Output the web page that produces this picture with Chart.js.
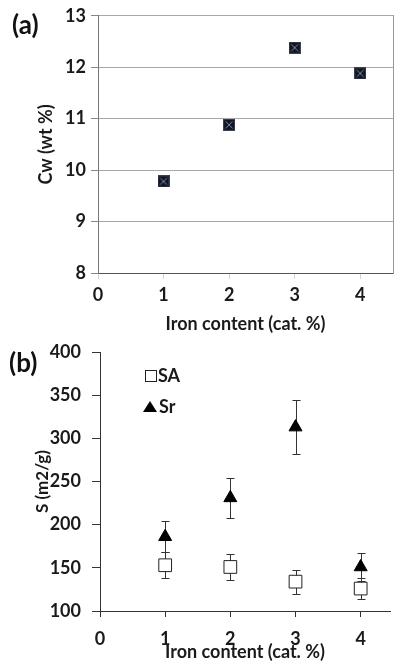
<!DOCTYPE html>
<html><head><meta charset="utf-8">
<script src="https://cdn.jsdelivr.net/npm/chart.js@4.4.0/dist/chart.umd.min.js"></script>
<style>
html,body{margin:0;padding:0;background:#fff;width:400px;height:663px;overflow:hidden;}
.wrap{position:absolute;left:0;}
.lab{position:absolute;font-family:Lato,sans-serif;font-weight:bold;font-size:26px;color:#111;line-height:1;}
</style></head><body>
<div class="wrap" style="top:0;width:400px;height:336px"><canvas id="ca" width="400" height="336"></canvas></div>
<div class="wrap" style="top:330px;width:400px;height:333px"><canvas id="cb" width="400" height="333"></canvas></div>
<div class="lab" style="left:12px;top:11px">(a)</div>
<div class="lab" style="left:9px;top:349px">(b)</div>
<script>
const ironContent = [1, 2, 3, 4];
const xTickValues = [0, 1, 2, 3, 4];
const cwValues = [9.78, 10.88, 12.38, 11.88];
const cwTicks = [8, 9, 10, 11, 12, 13];
const saValues = [153, 151, 134, 126];
const saErrors = [15, 15, 14, 12];
const srValues = [186, 231, 313, 151];
const srErrors = [18, 23, 31, 16];
const sTicks = [100, 150, 200, 250, 300, 350, 400];

const FONT = {family: 'Lato', weight: 'bold', size: 18};
const TFONT = {family: 'Lato', weight: 'bold', size: 18};
const TXT = '#1a1a1a';

function makeXSquare() {
  const c = document.createElement('canvas');
  c.width = 12; c.height = 12;
  const g = c.getContext('2d');
  g.fillStyle = '#3a4150'; g.fillRect(0, 0, 12, 12);
  g.fillStyle = '#12151f'; g.fillRect(1, 1, 10, 10);
  g.strokeStyle = '#6f8db0'; g.lineWidth = 1;
  g.beginPath();
  g.moveTo(2.5, 2.5); g.lineTo(9.5, 9.5);
  g.moveTo(9.5, 2.5); g.lineTo(2.5, 9.5);
  g.stroke();
  return c;
}

Chart.defaults.animation = false;
Chart.defaults.events = [];

new Chart(document.getElementById('ca'), {
  type: 'scatter',
  data: {datasets: [{
    label: 'Cw',
    data: ironContent.map((x, i) => ({x: x, y: cwValues[i]})),
    pointStyle: makeXSquare(),
    pointRadius: 6
  }]},
  options: {
    responsive: false,
    layout: {padding: {top: 13, left: 0, right: 2, bottom: 0}},
    plugins: {legend: {display: false}, tooltip: {enabled: false}},
    scales: {
      x: {
        type: 'linear', min: 0, max: 4.5,
        afterBuildTicks: s => { s.ticks = xTickValues.map(v => ({value: v})); },
        afterFit: s => { s.height = 336 - 273; },
        grid: {drawOnChartArea: false, drawTicks: true, tickLength: 6, tickColor: '#d4d4d4'},
        border: {color: '#555', width: 1},
        ticks: {font: FONT, color: TXT, padding: 5, maxRotation: 0},
        title: {display: true, text: 'Iron content (cat. %)', font: TFONT, color: TXT, padding: {top: 0, bottom: 1}}
      },
      y: {
        min: 8, max: 13,
        afterBuildTicks: s => { s.ticks = cwTicks.map(v => ({value: v})); },
        afterFit: s => { s.width = 98; },
        grid: {color: '#a8a8a8', tickLength: 7, tickColor: '#888'},
        border: {color: '#777', width: 1},
        ticks: {font: FONT, color: TXT, padding: 5},
        title: {display: true, text: 'Cw (wt %)', font: TFONT, color: TXT, padding: {top: 35, bottom: 0}}
      },
      y2: {
        position: 'right', min: 8, max: 13,
        grid: {display: false}, ticks: {display: false},
        border: {color: '#999', width: 1},
        afterFit: s => { s.width = 0; }
      }
    }
  }
});

const errorBars = {
  id: 'errorBars',
  beforeDatasetsDraw(chart) {
    const xs = chart.scales.x, ys = chart.scales.y, ctx = chart.ctx;
    ctx.save();
    ctx.strokeStyle = '#333'; ctx.lineWidth = 1;
    [[saValues, saErrors], [srValues, srErrors]].forEach(([vals, errs]) => {
      vals.forEach((v, i) => {
        const x = Math.round(xs.getPixelForValue(ironContent[i])) + 0.5;
        const yt = Math.round(ys.getPixelForValue(v + errs[i])) + 0.5;
        const yb = Math.round(ys.getPixelForValue(v - errs[i])) + 0.5;
        ctx.beginPath();
        ctx.moveTo(x, yt); ctx.lineTo(x, yb);
        ctx.moveTo(x - 4, yt); ctx.lineTo(x + 4, yt);
        ctx.moveTo(x - 4, yb); ctx.lineTo(x + 4, yb);
        ctx.stroke();
      });
    });
    ctx.restore();
  }
};

const innerLegend = {
  id: 'innerLegend',
  afterDraw(chart) {
    const ctx = chart.ctx;
    ctx.save();
    ctx.strokeStyle = '#222'; ctx.lineWidth = 1; ctx.fillStyle = '#fff';
    ctx.fillRect(145.5, 40.5, 11, 11); ctx.strokeRect(145.5, 40.5, 11, 11);
    ctx.fillStyle = '#000';
    ctx.beginPath();
    ctx.moveTo(150, 71); ctx.lineTo(157, 82); ctx.lineTo(143, 82); ctx.closePath(); ctx.fill();
    ctx.font = 'bold 18px Lato';
    ctx.fillStyle = TXT; ctx.textBaseline = 'middle';
    ctx.fillText('SA', 158, 46);
    ctx.fillText('Sr', 159, 77);
    ctx.restore();
  }
};

new Chart(document.getElementById('cb'), {
  type: 'scatter',
  data: {datasets: [
    {label: 'SA', data: ironContent.map((x, i) => ({x: x, y: saValues[i]})),
     pointStyle: 'rect', pointRadius: 9, backgroundColor: '#fff', borderColor: '#222', borderWidth: 1},
    {label: 'Sr', data: ironContent.map((x, i) => ({x: x, y: srValues[i]})),
     pointStyle: 'triangle', pointRadius: 7.5, backgroundColor: '#000', borderColor: '#000', borderWidth: 1}
  ]},
  plugins: [errorBars, innerLegend],
  options: {
    responsive: false,
    layout: {padding: {top: 22, left: 0, right: 0, bottom: 0}},
    plugins: {legend: {display: false}, tooltip: {enabled: false}},
    scales: {
      x: {
        type: 'linear', min: 0, max: 4.45,
        afterBuildTicks: s => { s.ticks = xTickValues.map(v => ({value: v})); },
        afterFit: s => { s.height = 333 - 281; },
        grid: {drawOnChartArea: false, drawTicks: true, tickLength: 6, tickColor: '#333'},
        border: {color: '#333', width: 1},
        ticks: {font: FONT, color: TXT, padding: 11, maxRotation: 0},
        title: {display: true, text: 'Iron content (cat. %)', font: TFONT, color: TXT, padding: {top: 0, bottom: 0}}
      },
      y: {
        min: 100, max: 400,
        afterBuildTicks: s => { s.ticks = sTicks.map(v => ({value: v})); },
        afterFit: s => { s.width = 100; },
        grid: {drawOnChartArea: false, tickLength: 8, tickColor: '#333'},
        border: {color: '#333', width: 1},
        ticks: {font: FONT, color: TXT, padding: 11},
        title: {display: true, text: 'S (m2/g)', font: {family: 'Lato', weight: 'bold', size: 17}, color: TXT, padding: {top: 32, bottom: 0}}
      }
    }
  }
});
</script>
</body></html>
